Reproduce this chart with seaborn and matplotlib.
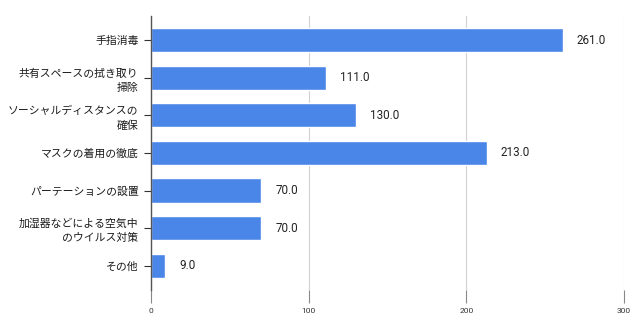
import matplotlib
matplotlib.use("Agg")
import matplotlib.pyplot as plt
import seaborn as sns
import pandas as pd

categories = [
    "手指消毒",
    "共有スペースの拭き取り\n掃除",
    "ソーシャルディスタンスの\n確保",
    "マスクの着用の徹底",
    "パーテーションの設置",
    "加湿器などによる空気中\nのウイルス対策",
    "その他",
]
values = [261.0, 111.0, 130.0, 213.0, 70.0, 70.0, 9.0]
x_ticks = [0, 100, 200, 300]

sns.set_theme(style="white")
plt.rcParams["font.family"] = ["Noto Sans CJK JP", "DejaVu Sans"]

df = pd.DataFrame({"category": categories, "value": values})

fig = plt.figure(figsize=(6.4, 3.18), dpi=100)
ax = fig.add_axes([0.236, 0.088, 0.739, 0.862])

sns.barplot(data=df, x="value", y="category", orient="h", color="#4a86e8",
            saturation=1, width=0.64, ax=ax)

ax.set_xlim(0, 300)
ax.set_ylim(6.65, -0.65)
ax.set_xticks(x_ticks)
ax.set_xticklabels([str(t) for t in x_ticks], fontsize=6, color="#333333",
                   family=["Roboto", "DejaVu Sans"])
ax.set_xlabel("")
ax.set_ylabel("")
ax.grid(axis="x", color="#d0d0d0", linewidth=0.8)
ax.set_axisbelow(True)

for s in ["top", "right", "bottom"]:
    ax.spines[s].set_visible(False)
ax.spines["left"].set_color("#555555")
ax.spines["left"].set_linewidth(1.0)

ax.tick_params(axis="x", bottom=True, length=9, width=0.8, color="#888888", pad=4)
ax.tick_params(axis="y", left=True, length=5, width=0.8, color="#333333", pad=4)
for lab in ax.get_yticklabels():
    lab.set_fontsize(7.8)
    lab.set_color("#1a1a1a")
    lab.set_multialignment("right")
    lab.set_linespacing(1.45)

for c in ax.containers:
    ax.bar_label(c, fmt="%.1f", padding=10, fontsize=8.4, color="#222222",
                 family=["Roboto", "DejaVu Sans"])

fig.savefig("out.png", dpi=100)
